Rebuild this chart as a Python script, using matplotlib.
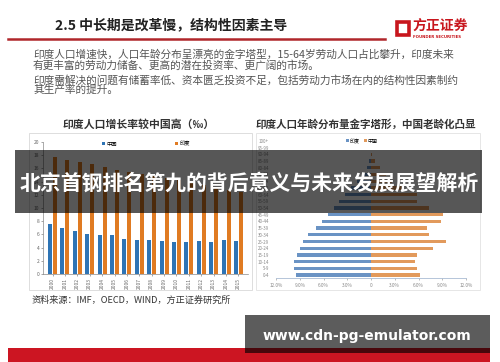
import matplotlib
matplotlib.use("Agg")
from matplotlib import pyplot as plt
from matplotlib.patches import Rectangle
import numpy as np

plt.rcParams['font.family'] = ['Noto Sans CJK SC', 'DejaVu Sans']

# left chart: population growth rate (per mille)
years = [str(y) for y in range(2000, 2016)]
china_rate = [7.58, 6.95, 6.45, 6.01, 5.87, 5.89, 5.28, 5.17, 5.08, 5.0, 4.79, 4.79, 4.95, 4.92, 5.21, 4.96]
india_rate = [17.8, 17.3, 17.0, 16.6, 16.2, 15.7, 15.4, 15.1, 14.8, 14.5, 14.2, 13.9, 13.5, 13.1, 12.8, 12.5]

# right chart: age pyramid (% of population)
ages = ["0-4", "5-9", "10-14", "15-19", "20-24", "25-29", "30-34", "35-39", "40-44", "45-49",
        "50-54", "55-59", "60-64", "65-69", "70-74", "75-79", "80-84", "85-89", "90-94", "95-99", "100+"]
india_age = [9.5, 9.7, 9.7, 9.4, 9.0, 8.65, 8.0, 7.0, 6.2, 5.4,
             4.7, 4.0, 3.3, 2.5, 1.8, 1.1, 0.45, 0.2, 0.06, 0.02, 0.0]
china_age = [6.15, 5.8, 5.6, 5.85, 7.8, 9.5, 7.35, 7.1, 8.8, 9.15,
             7.35, 5.85, 5.85, 4.0, 2.7, 1.9, 1.1, 0.5, 0.15, 0.04, 0.0]
pyr_ticks = [-12, -9, -6, -3, 0, 3, 6, 9, 12]
pyr_labels = ["12.0%", "9.0%", "6.0%", "3.0%", "0", "3.0%", "6.0%", "9.0%", "12.0%"]

W, H = 500, 362
fx = lambda x: x / W
fy = lambda y: 1 - y / H

fig = plt.figure(figsize=(5, 3.62), dpi=100)
fig.patch.set_facecolor("white")

def box(x0, y0, x1, y1, **kw):
    fig.patches.append(Rectangle((fx(x0), fy(y1)), fx(x1) - fx(x0), (y1 - y0) / H,
                                 transform=fig.transFigure, **kw))

# header
fig.text(fx(55), fy(25), "2.5 中长期是改革慢，结构性因素主导", fontsize=10, fontweight="bold",
         color="#222222", va="center")
fig.lines.append(plt.Line2D([fx(8), fx(385)], [fy(39), fy(39)], transform=fig.transFigure,
                            color="#b0262b", lw=1.8))
box(397, 22, 409, 35, fill=False, edgecolor="#c8161d", lw=2.6)
fig.text(fx(412), fy(26), "方正证券", fontsize=10, fontweight="bold", color="#c8161d", va="center")
fig.text(fx(413), fy(36.5), "FOUNDER SECURITIES", fontsize=2.8, fontweight="bold",
         color="#c8161d", va="center", family="DejaVu Sans")

body = ["印度人口增速快，人口年龄分布呈漂亮的金字塔型，15-64岁劳动人口占比攀升，印度未来",
        "有更丰富的劳动力储备、更高的潜在投资率、更广阔的市场。",
        "印度需解决的问题有储蓄率低、资本匮乏投资不足，包括劳动力市场在内的结构性因素制约",
        "其生产率的提升。"]
for txt, y in zip(body, [55, 65, 80, 90]):
    fig.text(fx(33), fy(y), txt, fontsize=7.7, color="#555555", va="center")

# chart titles and frames
fig.text(fx(139), fy(125), "印度人口增长率较中国高（‰）", fontsize=7.8, fontweight="bold",
         color="#333333", ha="center", va="center")
fig.text(fx(366), fy(125), "印度人口年龄分布量金字塔形，中国老龄化凸显", fontsize=7.6,
         fontweight="bold", color="#333333", ha="center", va="center")
box(29, 133, 252, 290, fill=False, edgecolor="#d8d8d8", lw=0.6)
box(256, 133, 480, 290, fill=False, edgecolor="#e2e2e2", lw=0.6)

# left bar chart
ax1 = fig.add_axes([fx(43), fy(274), 205 / W, 132 / H])
x = np.arange(len(years))
ax1.bar(x - 0.2, china_rate, 0.32, color="#2e74b5", label="中国")
ax1.bar(x + 0.2, india_rate, 0.32, color="#e07b22", label="印度")
ax1.set_xlim(-0.77, len(years) - 0.23)
ax1.set_ylim(0, 20)
ax1.set_yticks(range(0, 21, 2))
ax1.set_xticks(x)
ax1.set_xticklabels(years, rotation=90)
ax1.tick_params(labelsize=3.5, colors="#666666", length=1.5, width=0.4, pad=1.2)
for s in ["top", "right"]:
    ax1.spines[s].set_visible(False)
for s in ["left", "bottom"]:
    ax1.spines[s].set_color("#888888")
    ax1.spines[s].set_linewidth(0.5)
ax1.legend(loc="center", bbox_to_anchor=(fx(146), fy(144)), bbox_transform=fig.transFigure,
           ncol=2, fontsize=3.8, frameon=False, handlelength=0.6, handleheight=0.6,
           columnspacing=11, handletextpad=0.3)

# right pyramid
ax2 = fig.add_axes([fx(276), fy(278.4), 190 / W, 140.8 / H])
y = np.arange(len(ages))
ax2.barh(y, [-v for v in india_age], 0.5, color="#6a93c4", label="印度")
ax2.barh(y, china_age, 0.5, color="#e29a5c", label="中国")
ax2.set_xlim(-12, 12)
ax2.set_ylim(-0.5, len(ages) - 0.5)
ax2.set_yticks(y)
ax2.set_yticklabels(ages)
ax2.set_xticks(pyr_ticks)
ax2.set_xticklabels(pyr_labels)
ax2.tick_params(axis="y", length=0, labelsize=3.2, colors="#888888", pad=5)
ax2.tick_params(axis="x", length=1.5, width=0.4, labelsize=3.4, colors="#888888", pad=2)
for s in ["top", "right", "left"]:
    ax2.spines[s].set_visible(False)
ax2.spines["bottom"].set_color("#a9bcd3")
ax2.spines["bottom"].set_linewidth(0.6)
ax2.legend(loc="center", bbox_to_anchor=(fx(362), fy(141)), bbox_transform=fig.transFigure,
           ncol=2, fontsize=3.6, frameon=False, handlelength=0.5, handleheight=0.5,
           columnspacing=0.8, handletextpad=0.3)

fig.text(fx(32), fy(300), "资料来源：IMF，OECD，WIND，方正证券研究所", fontsize=6.6,
         color="#333333", va="center")

# footer band and overlays
box(8, 348, 490, 362, facecolor="#cc1522", edgecolor="none")
box(15, 150, 482, 213, facecolor="black", alpha=0.66, edgecolor="none", zorder=5)
fig.text(fx(249), fy(183), "北京首钢排名第九的背后意义与未来发展展望解析", fontsize=15,
         fontweight="bold", color="white", ha="center", va="center", zorder=6)
box(245, 315, 490, 353, facecolor="black", alpha=0.64, edgecolor="none", zorder=5)
fig.text(fx(367), fy(336), "www.cdn-pg-emulator.com", fontsize=10, fontweight="bold",
         color="white", ha="center", va="center", family="DejaVu Sans", zorder=6)

fig.savefig("out.png", dpi=100)
